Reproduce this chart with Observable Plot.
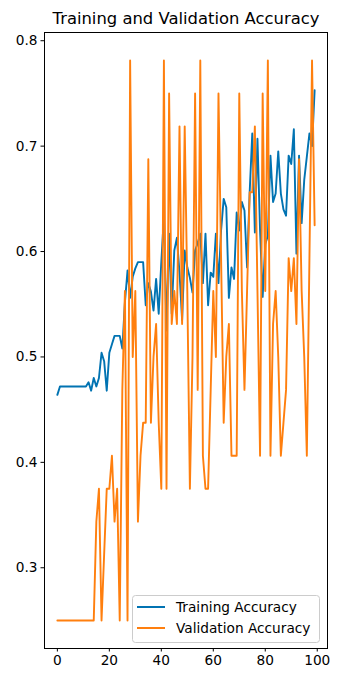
<!DOCTYPE html>
<html><head><meta charset="utf-8">
<script src="https://cdn.jsdelivr.net/npm/d3@7"></script>
<script src="https://cdn.jsdelivr.net/npm/@observablehq/plot@0.6"></script>
<style>body{margin:0;background:#fff} svg{display:block}</style>
</head><body><div id="chart"></div>
<script>
const title = "Training and Validation Accuracy";
const seriesNames = ["Training Accuracy", "Validation Accuracy"];
const seriesColors = ["#0173b2", "#ff7f0e"];
const xTicks = [0, 20, 40, 60, 80, 100];
const yTicks = [0.3, 0.4, 0.5, 0.6, 0.7, 0.8];

const trainAcc = [
  0.464, 0.472, 0.472, 0.472, 0.472, 0.472, 0.472, 0.472, 0.472, 0.472,
  0.472, 0.472, 0.476, 0.468, 0.480, 0.472, 0.480, 0.504, 0.496, 0.468,
  0.504, 0.512, 0.520, 0.520, 0.520, 0.508, 0.552, 0.582, 0.556, 0.576,
  0.584, 0.590, 0.590, 0.590, 0.549, 0.570, 0.562, 0.544, 0.574, 0.541,
  0.590, 0.634, 0.525, 0.617, 0.541, 0.601, 0.613, 0.580, 0.535, 0.601,
  0.585, 0.575, 0.561, 0.601, 0.608, 0.617, 0.570, 0.617, 0.549, 0.580,
  0.576, 0.617, 0.570, 0.620, 0.650, 0.642, 0.556, 0.585, 0.574, 0.637,
  0.620, 0.647, 0.639, 0.585, 0.656, 0.712, 0.618, 0.707, 0.620, 0.557,
  0.607, 0.615, 0.691, 0.647, 0.655, 0.695, 0.655, 0.640, 0.634, 0.691,
  0.683, 0.716, 0.598, 0.691, 0.627, 0.668, 0.690, 0.712, 0.700, 0.753
];
const valAcc = [
  0.25, 0.25, 0.25, 0.25, 0.25, 0.25, 0.25, 0.25, 0.25, 0.25,
  0.25, 0.25, 0.25, 0.25, 0.25, 0.34375, 0.375, 0.25, 0.3125, 0.375,
  0.375, 0.40625, 0.34375, 0.375, 0.25, 0.46875, 0.5625, 0.25, 0.78125, 0.5,
  0.5625, 0.34375, 0.40625, 0.4375, 0.4375, 0.6875, 0.4375, 0.5, 0.53125, 0.4375,
  0.375, 0.78125, 0.375, 0.75, 0.53125, 0.5625, 0.53125, 0.71875, 0.53125, 0.71875,
  0.5625, 0.375, 0.5, 0.75, 0.46875, 0.78125, 0.40625, 0.375, 0.375, 0.46875,
  0.5625, 0.5, 0.75, 0.59375, 0.4375, 0.5, 0.53125, 0.40625, 0.40625, 0.40625,
  0.75, 0.5625, 0.46875, 0.5625, 0.65625, 0.65625, 0.71875, 0.5625, 0.40625, 0.75,
  0.5625, 0.78125, 0.40625, 0.53125, 0.5625, 0.5, 0.40625, 0.4375, 0.46875, 0.59375,
  0.5625, 0.59375, 0.53125, 0.6875, 0.5625, 0.5, 0.40625, 0.59375, 0.78125, 0.625
];

const epochs = trainAcc.map((_, i) => i);
const rows = [];
epochs.forEach(e => rows.push({epoch: e, acc: trainAcc[e], series: seriesNames[0]}));
epochs.forEach(e => rows.push({epoch: e, acc: valAcc[e], series: seriesNames[1]}));

const chart = Plot.plot({
  width: 344, height: 679,
  marginLeft: 44, marginRight: 17, marginTop: 32, marginBottom: 31,
  style: {fontFamily: "DejaVu Sans", fontSize: "13.7px", background: "#fff", color: "#000"},
  x: {domain: [-4.95, 103.95]},
  y: {domain: [0.2234, 0.8078]},
  color: {domain: seriesNames, range: seriesColors},
  marks: [
    Plot.lineY(rows, {x: "epoch", y: "acc", stroke: "series", strokeWidth: 1.9}),
    Plot.frame({stroke: "#000", strokeWidth: 1}),
    Plot.axisX({ticks: xTicks, tickSize: 3.5, tickPadding: 3.5, label: null, stroke: "#000", fill: "#000"}),
    Plot.axisY({ticks: yTicks, tickSize: 3.5, tickPadding: 3.5, label: null, tickFormat: ".1f", stroke: "#000", fill: "#000"}),
    Plot.text([title], {frameAnchor: "top", lineAnchor: "middle", dy: -14, fontSize: 16.4, fill: "#000"})
  ]
});
document.getElementById("chart").append(chart);

// legend (lower right, matplotlib style)
const svg = d3.select(chart);
const lg = svg.append("g").attr("font-family", "DejaVu Sans").attr("font-size", 13.7)
  .attr("text-anchor", "start");
lg.append("rect").attr("x", 132.5).attr("y", 595.5).attr("width", 187).attr("height", 47)
  .attr("rx", 3).attr("fill", "#fff").attr("fill-opacity", 0.8).attr("stroke", "#cccccc");
seriesNames.forEach((name, i) => {
  const cy = 607 + i * 21;
  lg.append("line").attr("x1", 137).attr("x2", 165).attr("y1", cy).attr("y2", cy)
    .style("stroke", seriesColors[i]).style("stroke-width", "2px");
  lg.append("text").attr("x", 176).attr("y", cy).attr("dy", "0.35em")
    .style("text-anchor", "start").style("fill", "#000").text(name);
});
</script>
</body></html>
